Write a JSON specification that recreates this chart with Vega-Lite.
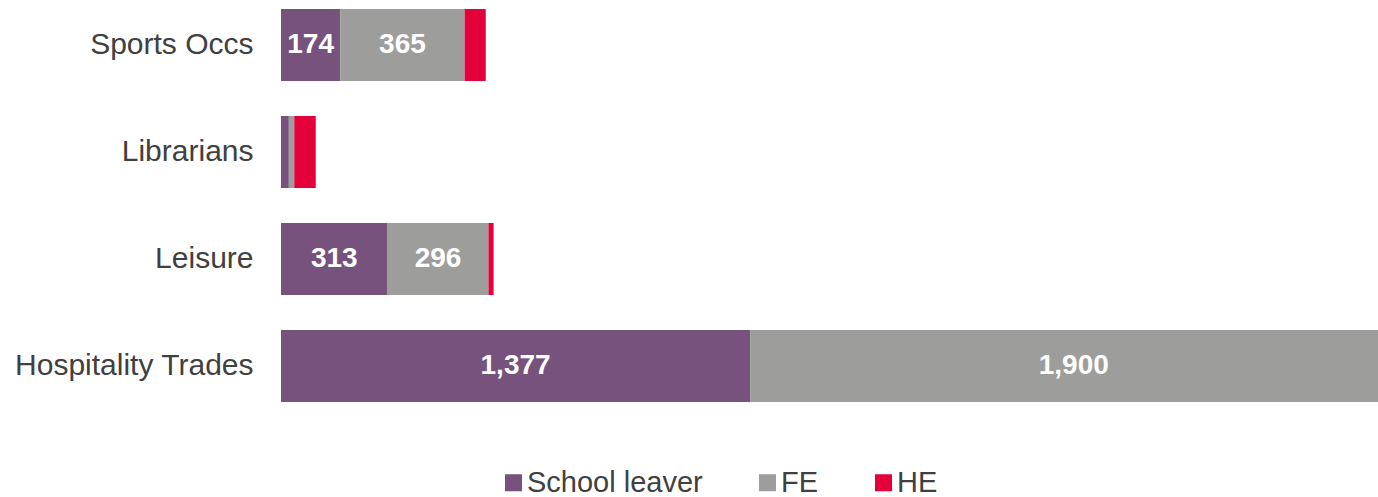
{
  "$schema": "https://vega.github.io/schema/vega-lite/v6.json",
  "width": 1097,
  "height": 411,
  "autosize": {"type": "none"},
  "padding": {"left": 281, "top": 0, "right": 0, "bottom": 86},
  "config": {"view": {"stroke": null}, "font": "Arial, 'Liberation Sans', sans-serif"},
  "data": {
    "values": [
      {"occ": "Sports Occs", "series": "School leaver", "value": 174},
      {"occ": "Sports Occs", "series": "FE", "value": 365},
      {"occ": "Sports Occs", "series": "HE", "value": 62},
      {"occ": "Librarians", "series": "School leaver", "value": 23},
      {"occ": "Librarians", "series": "FE", "value": 16},
      {"occ": "Librarians", "series": "HE", "value": 63},
      {"occ": "Leisure", "series": "School leaver", "value": 313},
      {"occ": "Leisure", "series": "FE", "value": 296},
      {"occ": "Leisure", "series": "HE", "value": 15},
      {"occ": "Hospitality Trades", "series": "School leaver", "value": 1377},
      {"occ": "Hospitality Trades", "series": "FE", "value": 1900}
    ]
  },
  "transform": [
    {"calculate": "indexof(['School leaver','FE','HE'], datum.series)", "as": "k"},
    {"stack": "value", "groupby": ["occ"], "sort": [{"field": "k", "order": "ascending"}], "as": ["x0", "x1"]},
    {"calculate": "(datum.x0 + datum.x1) / 2", "as": "mid"}
  ],
  "encoding": {
    "y": {
      "field": "occ",
      "type": "nominal",
      "sort": ["Sports Occs", "Librarians", "Leisure", "Hospitality Trades"],
      "scale": {"paddingInner": 0.327, "paddingOuter": 0.084},
      "axis": {
        "title": null,
        "domain": false,
        "ticks": false,
        "labelPadding": 28,
        "labelFontSize": 30,
        "labelColor": "#404040",
        "labelLimit": 0
      }
    }
  },
  "layer": [
    {
      "mark": {"type": "bar", "clip": true},
      "encoding": {
        "x": {"field": "x0", "type": "quantitative", "scale": {"domain": [0, 3220], "nice": false}, "axis": null},
        "x2": {"field": "x1"},
        "color": {
          "field": "series",
          "type": "nominal",
          "scale": {"domain": ["School leaver", "FE", "HE"], "range": ["#76527C", "#9D9D9C", "#E4003B"]},
          "legend": {
            "title": null,
            "orient": "none",
            "direction": "horizontal",
            "legendX": 218,
            "legendY": 468,
            "padding": 0,
            "symbolType": "square",
            "symbolSize": 289,
            "symbolStrokeWidth": 0,
            "labelFontSize": 29,
            "labelColor": "#404040",
            "labelLimit": 0,
            "labelOffset": -1,
            "columnPadding": 50
          }
        }
      }
    },
    {
      "transform": [{"filter": "datum.value >= 100"}],
      "mark": {"type": "text", "fontWeight": "bold", "fontSize": 28, "color": "white", "baseline": "middle"},
      "encoding": {
        "x": {"field": "mid", "type": "quantitative"},
        "text": {"field": "value", "type": "quantitative", "format": ","}
      }
    }
  ]
}
